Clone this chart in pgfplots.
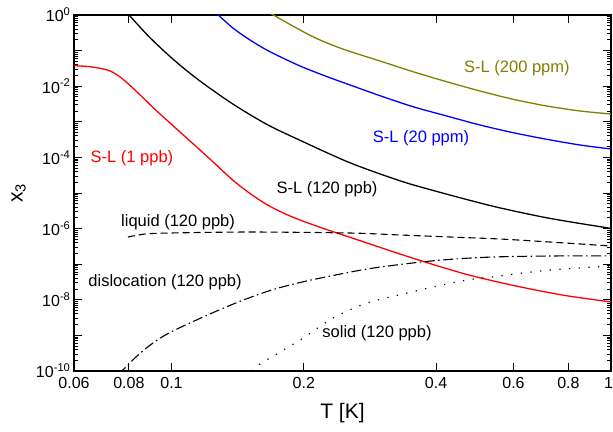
\documentclass[border=0pt]{standalone}
\usepackage{fontspec}
\setmainfont{Liberation Sans}
\usepackage{pgfplots}
\pgfplotsset{compat=1.18}
\definecolor{olivec}{RGB}{128,128,0}
\definecolor{redc}{RGB}{255,0,0}
\definecolor{bluec}{RGB}{0,0,255}
\begin{document}
\begin{tikzpicture}
\begin{axis}[
  scale only axis, width=537pt, height=356pt,
  xmode=log, ymode=log,
  xmin=0.06, xmax=1, ymin=1e-10, ymax=1,
  xtick={0.06,0.08,0.1,0.2,0.4,0.6,0.8,1},
  xticklabels={0.06,0.08,0.1,0.2,0.4,0.6,0.8,\hspace*{-5pt}1},
  minor xtick={},
  ytick={1e-10,1e-9,1e-8,1e-7,1e-6,1e-5,1e-4,1e-3,1e-2,1e-1,1},
  yticklabels={10\textsuperscript{-10},,10\textsuperscript{-8},,10\textsuperscript{-6},,10\textsuperscript{-4},,10\textsuperscript{-2},,10\textsuperscript{0}},
  minor ytick={2e-10,3e-10,4e-10,5e-10,6e-10,7e-10,8e-10,9e-10,
               2e-9,3e-9,4e-9,5e-9,6e-9,7e-9,8e-9,9e-9,
               2e-8,3e-8,4e-8,5e-8,6e-8,7e-8,8e-8,9e-8,
               2e-7,3e-7,4e-7,5e-7,6e-7,7e-7,8e-7,9e-7,
               2e-6,3e-6,4e-6,5e-6,6e-6,7e-6,8e-6,9e-6,
               2e-5,3e-5,4e-5,5e-5,6e-5,7e-5,8e-5,9e-5,
               2e-4,3e-4,4e-4,5e-4,6e-4,7e-4,8e-4,9e-4,
               2e-3,3e-3,4e-3,5e-3,6e-3,7e-3,8e-3,9e-3,
               2e-2,3e-2,4e-2,5e-2,6e-2,7e-2,8e-2,9e-2,
               2e-1,3e-1,4e-1,5e-1,6e-1,7e-1,8e-1,9e-1},
  tick align=inside,
  major tick length=8pt, minor tick length=4.5pt,
  axis line style={line width=1.1pt},
  every tick/.style={black, line width=1pt},
  ticklabel style={font=\fontsize{16}{19}\selectfont},
  xticklabel style={yshift=-3pt},
  xlabel={T [K]}, ylabel={x\textsubscript{3}},
  label style={font=\fontsize{21}{25}\selectfont},
  xlabel style={at={(axis description cs:0.5,-0.118)}, anchor=center},
  ylabel style={at={(axis description cs:-0.103,0.5)}, anchor=center},
]
% S-L (1 ppb)
\addplot[redc, line width=1.3pt, smooth] coordinates {
(0.06,3.765e-2)(0.06551,3.507e-2)(0.07145,2.851e-2)(0.0753,2.064e-2)(0.07935,1.230e-2)
(0.08511,5.481e-3)(0.09284,1.947e-3)(0.1161,1.614e-4)(0.1267,6.0e-5)(0.1382,2.244e-5)
(0.1509,9.68e-6)(0.1647,4.753e-6)(0.1797,2.743e-6)(0.1961,1.744e-6)(0.2235,9.745e-7)
(0.2548,5.69e-7)(0.3311,1.934e-7)(0.3936,9.81e-8)(0.4704,5.137e-8)(0.5592,3.062e-8)
(0.6647,1.947e-8)(0.7943,1.296e-8)(1,8.68e-9)};
% S-L (120 ppb)
\addplot[black, line width=1.3pt, smooth] coordinates {
(0.0764,1.91)(0.08005,1)(0.08935,0.2304)(0.1019,5.103e-2)(0.1161,1.400e-2)
(0.1380,3.143e-3)(0.1650,8.397e-4)(0.1961,3.023e-4)(0.2548,7.053e-5)(0.3311,2.201e-5)
(0.3936,1.183e-5)(0.4704,6.526e-6)(0.5592,3.815e-6)(0.7265,1.934e-6)(1,1.013e-6)};
% S-L (20 ppm)
\addplot[bluec, line width=1.3pt, smooth] coordinates {
(0.1224,1.677)(0.1278,1)(0.1382,0.4230)(0.1509,0.1985)(0.1647,0.1039)(0.1797,6.077e-2)
(0.1961,3.693e-2)(0.2140,2.393e-2)(0.2335,1.593e-2)(0.2548,1.081e-2)(0.2981,5.407e-3)
(0.3544,2.656e-3)(0.4228,1.455e-3)(0.5035,8.13e-4)(0.5993,4.94e-4)(0.7140,3.224e-4)
(0.8502,2.23e-4)(1,1.722e-4)};
% S-L (200 ppm)
\addplot[olivec, line width=1.3pt, smooth] coordinates {
(0.1632,1.382)(0.1705,1)(0.1961,0.3791)(0.2140,0.2188)(0.2335,0.1391)(0.2548,9.434e-2)
(0.2981,5.103e-2)(0.3544,2.554e-2)(0.4228,1.337e-2)(0.5035,7.33e-3)(0.5993,4.285e-3)
(0.7140,2.779e-3)(0.8502,2.011e-3)(1,1.656e-3)};
% liquid (120 ppb)
\addplot[black, line width=1.1pt, dash pattern=on 7pt off 4pt, smooth] coordinates {
(0.0796,5.8e-7)(0.0871,7.05e-7)(0.0992,7.52e-7)(0.1509,8.02e-7)(0.2548,7.52e-7)
(0.3311,6.61e-7)(0.4302,5.81e-7)(0.5592,5.10e-7)(0.7265,4.20e-7)(1,3.24e-7)};
% dislocation (120 ppb)
\addplot[black, line width=1.1pt, dash pattern=on 10pt off 3.5pt on 1.5pt off 3.5pt, smooth] coordinates {
(0.07597,7.72e-11)(0.07757,1.067e-10)(0.0835,2.638e-10)(0.09077,6.116e-10)(0.0992,1.206e-9)
(0.1180,3.288e-9)(0.1410,8.397e-9)(0.1676,1.825e-8)(0.1961,3.062e-8)(0.2331,4.815e-8)
(0.2786,7.33e-8)(0.3311,9.81e-8)(0.3936,1.246e-7)(0.4704,1.474e-7)(0.5592,1.614e-7)
(0.7265,1.70e-7)(1,1.722e-7)};
% solid (120 ppb)
\addplot[black, line width=1.2pt, dash pattern=on 1.2pt off 8.5pt, smooth] coordinates {
(0.1525,1e-10)(0.1590,1.57e-10)(0.1961,7.43e-10)(0.2331,3.08e-9)(0.2786,8.13e-9)
(0.3363,1.455e-8)(0.3936,2.29e-8)(0.4704,3.60e-8)(0.5592,4.66e-8)(0.7265,6.87e-8)(1,8.9e-8)};
% labels
\begin{scope}[font=\fontsize{16.5}{20}\selectfont]
\node[redc] at (axis cs:0.0813,9.6e-5) {S-L (1 ppb)};
\node[black] at (axis cs:0.2259,1.30e-5) {S-L (120 ppb)};
\node[bluec] at (axis cs:0.3696,3.51e-4) {S-L (20 ppm)};
\node[olivec] at (axis cs:0.611,3.25e-2) {S-L (200 ppm)};
\node[black] at (axis cs:0.1035,1.53e-6) {liquid (120 ppb)};
\node[black] at (axis cs:0.0967,3.16e-8) {dislocation (120 ppb)};
\node[black] at (axis cs:0.2935,1.17e-9) {solid (120 ppb)};
\end{scope}
\end{axis}
\pgfresetboundingbox
\useasboundingbox ([xshift=-74pt,yshift=-60pt]current axis.south west) rectangle ([xshift=2pt,yshift=15pt]current axis.north east);
\end{tikzpicture}
\end{document}
